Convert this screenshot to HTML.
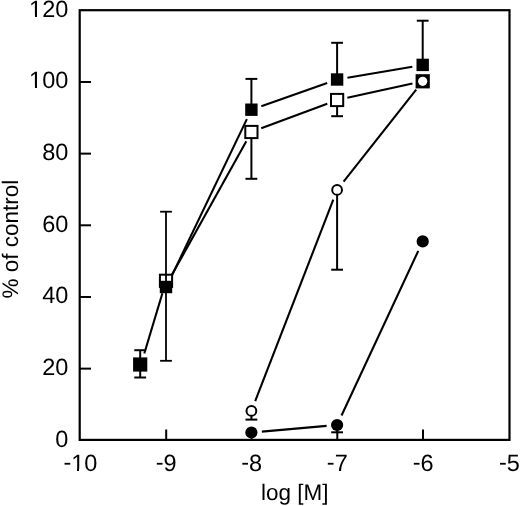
<!DOCTYPE html>
<html><head><meta charset="utf-8"><style>
html,body{margin:0;padding:0;background:#fff;}
body{width:520px;height:506px;overflow:hidden;}
svg{display:block;will-change:transform;}
text{font-family:"Liberation Sans",sans-serif;font-size:22.5px;fill:#000;text-rendering:geometricPrecision;}
.t{font-size:23.5px;}
</style></head><body>
<svg width="520" height="506" viewBox="0 0 520 506">
<rect x="79.7" y="10.2" width="429.8" height="429.7" fill="none" stroke="#000" stroke-width="2.2"/>
<g stroke="#000" stroke-width="2">
<line x1="166.20" y1="440" x2="166.20" y2="429.5"/>
<line x1="251.60" y1="440" x2="251.60" y2="429.5"/>
<line x1="337.30" y1="440" x2="337.30" y2="429.5"/>
<line x1="423.00" y1="440" x2="423.00" y2="429.5"/>
<line x1="79.6" y1="368.63" x2="91.0" y2="368.63"/>
<line x1="79.6" y1="296.97" x2="91.0" y2="296.97"/>
<line x1="79.6" y1="225.30" x2="91.0" y2="225.30"/>
<line x1="79.6" y1="153.63" x2="91.0" y2="153.63"/>
<line x1="79.6" y1="81.97" x2="91.0" y2="81.97"/>
</g>
<g stroke="#000" stroke-width="2.1" stroke-linecap="butt">
<line x1="144.3" y1="353.5" x2="162.4" y2="293.3"/>
<line x1="170.54" y1="278.33" x2="246.86" y2="119.17"/>
<line x1="171.10" y1="276.32" x2="246.30" y2="141.18"/>
<line x1="261.30" y1="106.21" x2="327.20" y2="82.99"/>
<line x1="347.45" y1="77.73" x2="412.35" y2="66.67"/>
<line x1="261.24" y1="128.33" x2="327.26" y2="103.67"/>
<line x1="347.36" y1="97.76" x2="412.44" y2="83.54"/>
<line x1="255.20" y1="401.11" x2="333.30" y2="199.69"/>
<line x1="343.60" y1="181.65" x2="416.20" y2="89.55"/>
<line x1="261.86" y1="431.58" x2="326.64" y2="425.92"/>
<line x1="341.54" y1="415.48" x2="418.26" y2="250.92"/>
</g>
<g stroke="#000" stroke-width="2">
<line x1="140.20" y1="364.50" x2="140.20" y2="350.20"/>
<line x1="134.30" y1="350.20" x2="146.10" y2="350.20"/>
<line x1="140.20" y1="364.50" x2="140.20" y2="377.50"/>
<line x1="134.30" y1="377.50" x2="146.10" y2="377.50"/>
<line x1="251.40" y1="109.70" x2="251.40" y2="78.90"/>
<line x1="245.50" y1="78.90" x2="257.30" y2="78.90"/>
<line x1="251.40" y1="132.00" x2="251.40" y2="178.80"/>
<line x1="245.50" y1="178.80" x2="257.30" y2="178.80"/>
<line x1="337.10" y1="79.50" x2="337.10" y2="42.80"/>
<line x1="331.20" y1="42.80" x2="343.00" y2="42.80"/>
<line x1="337.10" y1="100.00" x2="337.10" y2="116.20"/>
<line x1="331.20" y1="116.20" x2="343.00" y2="116.20"/>
<line x1="337.10" y1="189.90" x2="337.10" y2="269.70"/>
<line x1="331.20" y1="269.70" x2="343.00" y2="269.70"/>
<line x1="337.10" y1="425.00" x2="337.10" y2="432.30"/>
<line x1="331.20" y1="432.30" x2="343.00" y2="432.30"/>
<line x1="422.70" y1="64.90" x2="422.70" y2="20.70"/>
<line x1="416.80" y1="20.70" x2="428.60" y2="20.70"/>
<line x1="251.40" y1="410.90" x2="251.40" y2="419.60"/>
<line x1="245.50" y1="419.60" x2="257.30" y2="419.60"/>
</g>
<rect x="134.10" y="358.40" width="12.2" height="12.2" fill="#fff" stroke="#000" stroke-width="2"/>
<rect x="159.90" y="274.70" width="12.2" height="12.2" fill="#fff" stroke="#000" stroke-width="2"/>
<rect x="245.30" y="125.90" width="12.2" height="12.2" fill="#fff" stroke="#000" stroke-width="2"/>
<rect x="331.00" y="93.90" width="12.2" height="12.2" fill="#fff" stroke="#000" stroke-width="2"/>
<rect x="416.60" y="75.20" width="12.2" height="12.2" fill="#000" stroke="#000" stroke-width="2"/>
<rect x="134.00" y="358.30" width="12.4" height="12.4" fill="#000"/>
<rect x="159.80" y="280.80" width="12.4" height="12.4" fill="#000"/>
<rect x="245.20" y="103.50" width="12.4" height="12.4" fill="#000"/>
<rect x="330.90" y="73.30" width="12.4" height="12.4" fill="#000"/>
<rect x="416.50" y="58.70" width="12.4" height="12.4" fill="#000"/>
<circle cx="251.40" cy="410.90" r="4.9" fill="#fff" stroke="#000" stroke-width="2"/>
<circle cx="337.10" cy="189.90" r="4.9" fill="#fff" stroke="#000" stroke-width="2"/>
<circle cx="422.70" cy="81.30" r="4.6" fill="#fff"/>
<circle cx="251.40" cy="432.50" r="6.1" fill="#000"/>
<circle cx="337.10" cy="425.00" r="6.1" fill="#000"/>
<circle cx="422.70" cy="241.40" r="6.1" fill="#000"/>
<g stroke="#000" stroke-width="1.8">
<line x1="166.00" y1="211.70" x2="166.00" y2="360.80"/>
<line x1="160.10" y1="360.80" x2="171.90" y2="360.80"/>
<line x1="160.10" y1="211.7" x2="171.90" y2="211.7"/>
</g>
<text class="t" x="68.3" y="446.80" text-anchor="end">0</text>
<text class="t" x="68.3" y="375.13" text-anchor="end">20</text>
<text class="t" x="68.3" y="303.47" text-anchor="end">40</text>
<text class="t" x="68.3" y="231.80" text-anchor="end">60</text>
<text class="t" x="68.3" y="160.13" text-anchor="end">80</text>
<text class="t" x="68.3" y="88.47" text-anchor="end">100</text>
<text class="t" x="68.3" y="16.80" text-anchor="end">120</text>
<text class="t" x="80.40" y="470.5" text-anchor="middle"><tspan dy="-0.9">-</tspan><tspan dy="0.9">10</tspan></text>
<text class="t" x="166.20" y="470.5" text-anchor="middle"><tspan dy="-0.9">-</tspan><tspan dy="0.9">9</tspan></text>
<text class="t" x="251.60" y="470.5" text-anchor="middle"><tspan dy="-0.9">-</tspan><tspan dy="0.9">8</tspan></text>
<text class="t" x="337.30" y="470.5" text-anchor="middle"><tspan dy="-0.9">-</tspan><tspan dy="0.9">7</tspan></text>
<text class="t" x="423.20" y="470.5" text-anchor="middle"><tspan dy="-0.9">-</tspan><tspan dy="0.9">6</tspan></text>
<text class="t" x="509.40" y="470.5" text-anchor="middle"><tspan dy="-0.9">-</tspan><tspan dy="0.9">5</tspan></text>
<text x="294.8" y="500.0" text-anchor="middle">log [M]</text>
<rect x="29.6" y="14.9" width="5.4" height="2.6" fill="#fff"/><rect x="37.0" y="14.9" width="4.6" height="2.6" fill="#fff"/>
<rect x="29.6" y="85.9" width="5.4" height="2.6" fill="#fff"/><rect x="37.0" y="85.9" width="4.6" height="2.6" fill="#fff"/>
<rect x="72.3" y="468.6" width="4.7" height="2.6" fill="#fff"/><rect x="79.0" y="468.6" width="5.2" height="2.6" fill="#fff"/>
<text transform="translate(17.6,239.2) rotate(-90)" text-anchor="middle">% of control</text>
</svg>
</body></html>
